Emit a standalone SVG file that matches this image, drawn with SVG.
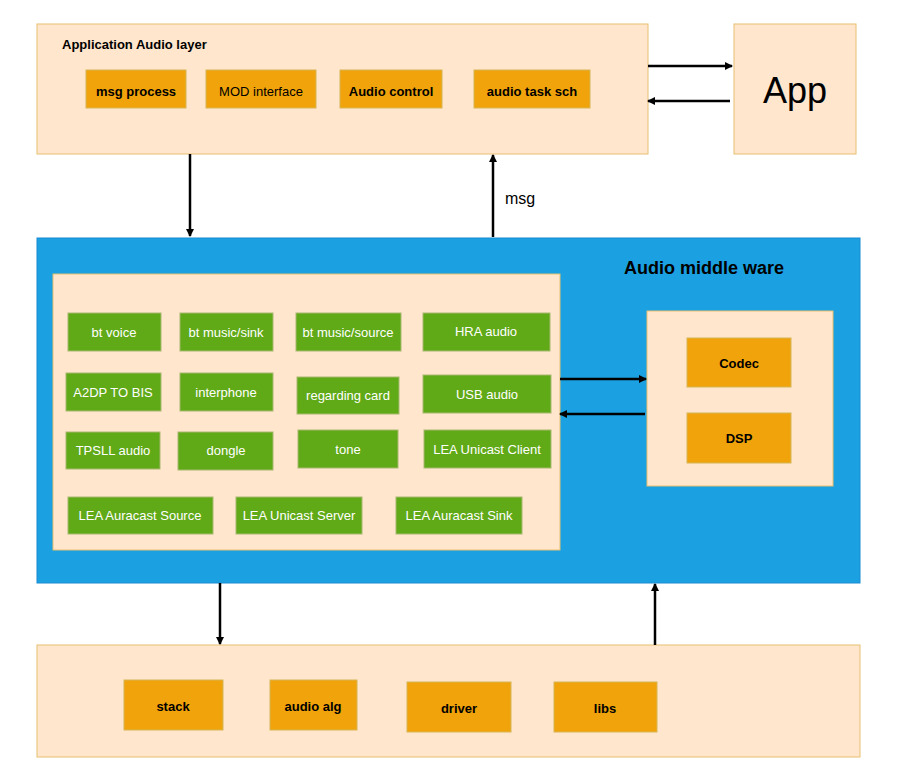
<svg xmlns="http://www.w3.org/2000/svg" width="899" height="780" viewBox="0 0 899 780">
<style>
text{font-family:"Liberation Sans",Arial,sans-serif;text-anchor:middle;dominant-baseline:central}
.pe{fill:#ffe6cc;stroke:#e8c070;stroke-width:1}
.or{fill:#f0a30a;stroke:#d6b656;stroke-width:1}
.gr{fill:#60a917;stroke:#a8b870;stroke-width:1}
.ob{font-size:13px;font-weight:bold;fill:#000}
.gt{font-size:13px;fill:#fff}
.c{stroke:#000;stroke-width:2.5;fill:none;marker-end:url(#a)}
</style>
<defs><marker id="a" markerWidth="8" markerHeight="8" refX="7" refY="4" orient="auto" markerUnits="userSpaceOnUse" viewBox="0 0 8 8"><path d="M0,0L8,4L0,8z" fill="#000"/></marker></defs>
<rect width="899" height="780" fill="#fff"/>
<g id="app-layer"><rect class="pe" x="37" y="24" width="611" height="130"/><text x="62" y="44" style="text-anchor:start;font-size:13px;font-weight:bold">Application Audio layer</text>
<rect class="or" x="86" y="70" width="100" height="38"/><text class="ob" x="136" y="91">msg process</text>
<rect class="or" x="206" y="70" width="110" height="38"/><text class="ob" x="261" y="91" style="font-weight:normal">MOD interface</text>
<rect class="or" x="340" y="70" width="102" height="38"/><text class="ob" x="391" y="91">Audio control</text>
<rect class="or" x="474" y="70" width="116" height="38"/><text class="ob" x="532" y="91">audio task sch</text></g>
<g id="app"><rect class="pe" x="734" y="24" width="122" height="130"/><text x="795" y="90" style="font-size:36px">App</text></g>
<g id="middleware"><rect x="37" y="238" width="823" height="345" fill="#1ba1e2" stroke="#1a8ad0"/><text x="704" y="268" style="font-size:18px;font-weight:bold;fill:#000">Audio middle ware</text>
<rect class="pe" x="53" y="274" width="507" height="276"/>
<rect class="gr" x="68" y="313" width="93" height="38"/><text class="gt" x="114" y="332">bt voice</text>
<rect class="gr" x="180" y="313" width="93" height="38"/><text class="gt" x="226" y="332">bt music/sink</text>
<rect class="gr" x="296" y="313" width="105" height="38"/><text class="gt" x="348" y="332">bt music/source</text>
<rect class="gr" x="423" y="313" width="127" height="38"/><text class="gt" x="486" y="331">HRA audio</text>
<rect class="gr" x="66" y="373" width="95" height="38"/><text class="gt" x="113" y="392">A2DP TO BIS</text>
<rect class="gr" x="180" y="373" width="93" height="38"/><text class="gt" x="226" y="392">interphone</text>
<rect class="gr" x="297" y="377" width="102" height="37"/><text class="gt" x="348" y="395">regarding card</text>
<rect class="gr" x="423" y="375" width="128" height="38"/><text class="gt" x="487" y="394">USB audio</text>
<rect class="gr" x="66" y="432" width="94" height="37"/><text class="gt" x="113" y="450">TPSLL audio</text>
<rect class="gr" x="178" y="432" width="95" height="38"/><text class="gt" x="226" y="450">dongle</text>
<rect class="gr" x="298" y="430" width="100" height="38"/><text class="gt" x="348" y="449">tone</text>
<rect class="gr" x="424" y="430" width="127" height="38"/><text class="gt" x="487" y="449">LEA Unicast Client</text>
<rect class="gr" x="68" y="497" width="145" height="37"/><text class="gt" x="140" y="515">LEA  Auracast Source</text>
<rect class="gr" x="236" y="497" width="126" height="37"/><text class="gt" x="299" y="515">LEA Unicast Server</text>
<rect class="gr" x="396" y="497" width="126" height="37"/><text class="gt" x="459" y="515">LEA Auracast Sink</text>
<rect class="pe" x="647" y="311" width="186" height="175"/>
<rect class="or" x="687" y="338" width="104" height="49"/><text class="ob" x="739" y="363">Codec</text>
<rect class="or" x="687" y="413" width="104" height="50"/><text class="ob" x="739" y="438">DSP</text></g>
<g id="bottom"><rect class="pe" x="37" y="645" width="823" height="112"/>
<rect class="or" x="124" y="680" width="99" height="50"/><text class="ob" x="173" y="706">stack</text>
<rect class="or" x="270" y="680" width="87" height="50"/><text class="ob" x="313" y="706">audio alg</text>
<rect class="or" x="407" y="682" width="104" height="50"/><text class="ob" x="459" y="708">driver</text>
<rect class="or" x="554" y="682" width="103" height="50"/><text class="ob" x="605" y="708">libs</text></g>
<g id="connectors">
<path class="c" d="M648,66H732"/><path class="c" d="M730,101H648"/>
<path class="c" d="M190,154V236"/><path class="c" d="M493,237V155"/>
<text x="520" y="198" style="font-size:16px">msg</text>
<path class="c" d="M560,379H646"/><path class="c" d="M645,414H560"/>
<path class="c" d="M220,583V644"/><path class="c" d="M655,645V584"/>
</g>
</svg>
